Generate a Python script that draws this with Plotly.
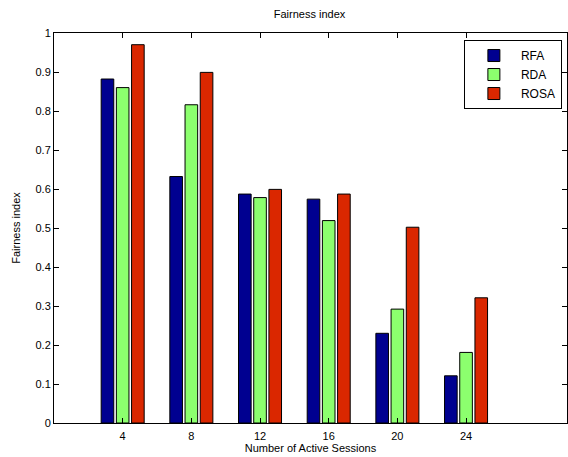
import plotly.graph_objects as go

sessions = [4, 8, 12, 16, 20, 24]
tick_labels = ["4", "8", "12", "16", "20", "24"]
rfa = [0.882, 0.632, 0.587, 0.574, 0.230, 0.121]
rda = [0.860, 0.816, 0.578, 0.519, 0.292, 0.181]
rosa = [0.970, 0.899, 0.599, 0.587, 0.502, 0.321]
y_ticks = [0, 0.1, 0.2, 0.3, 0.4, 0.5, 0.6, 0.7, 0.8, 0.9, 1]

series = [("RFA", rfa, "#000090"), ("RDA", rda, "#8CFF6E"), ("ROSA", rosa, "#DA2700")]

fig = go.Figure()
for name, vals, col in series:
    fig.add_trace(go.Bar(x=sessions, y=vals, name=name,
                         marker=dict(color=col, line=dict(color="black", width=1))))

font = dict(family="Liberation Sans, Arial, sans-serif", size=11, color="black")
fig.update_layout(
    width=568, height=457,
    margin=dict(l=54, r=1, t=33, b=34, autoexpand=False),
    paper_bgcolor="white", plot_bgcolor="white",
    font=font,
    barmode="group", bargap=0.336, bargroupgap=0.17,
    title=dict(text="Fairness index", x=0.545, xanchor="center", y=0.968, yanchor="middle",
               font=dict(size=11)),
    showlegend=True,
    legend=dict(x=0.799, xanchor="left", y=0.982, yanchor="top",
                bgcolor="white", bordercolor="black", borderwidth=1,
                font=dict(size=12), itemwidth=44, tracegroupgap=0,
                indentation=2),
)
fig.update_xaxes(range=[0, 29.88], tickvals=sessions, ticktext=tick_labels,
                 ticks="inside", ticklen=5, tickcolor="black", mirror="ticks",
                 showline=True, linecolor="black", linewidth=1, showgrid=False,
                 zeroline=False, ticklabelstandoff=3,
                 title=dict(text="Number of Active Sessions", standoff=0, font=dict(size=11)))
fig.update_yaxes(range=[0, 1], tickvals=y_ticks, ticktext=[f"{v:g}" for v in y_ticks],
                 ticks="inside", ticklen=5, tickcolor="black", mirror="ticks",
                 showline=True, linecolor="black", linewidth=1, showgrid=False,
                 zeroline=False,
                 title=dict(text="Fairness index", standoff=12, font=dict(size=11)))
fig.write_html("out.html", config={"displayModeBar": False},
               post_script="document.body.style.margin='0';document.body.style.overflow='hidden';")
